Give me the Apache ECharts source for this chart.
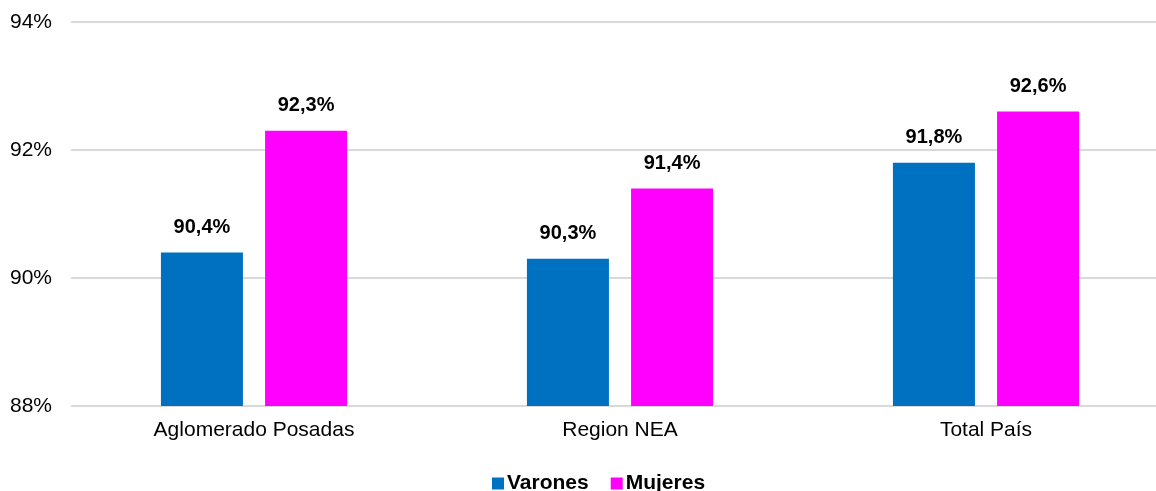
<!DOCTYPE html>
<html>
<head>
<meta charset="utf-8">
<script src="https://cdn.jsdelivr.net/npm/echarts@6/dist/echarts.min.js"></script>
<style>
html, body { margin: 0; padding: 0; background: #fff; }
#chart { width: 1156px; height: 491px; }
</style>
</head>
<body>
<div id="chart"></div>
<script>
var categories = ['Aglomerado Posadas', 'Region NEA', 'Total País']
var varones = [90.4, 90.3, 91.8]
var mujeres = [92.3, 91.4, 92.6]
var yTicks = [88, 90, 92, 94]

var myChart = echarts.init(document.getElementById('chart'));

function pct(v) {
	return v.toFixed(1).replace('.', ',') + '%'
}

var labelStyle = {
	show: true,
	position: 'top',
	distance: 15,
	fontFamily: 'Liberation Sans, Arial, sans-serif',
	fontSize: 20,
	fontWeight: 'bold',
	color: '#000',
	formatter: function (p) { return pct(p.value) }
}

var option = {
	animation: false,
	grid: {
		left: 71,
		width: 1098,
		top: 22,
		bottom: 85,
		outerBoundsMode: 'none'
	},
	legend: {
		top: 468,
		left: 487,
		itemWidth: 12,
		itemHeight: 12,
		itemGap: 22,
		icon: 'rect',
		textStyle: {
			fontFamily: 'Liberation Sans, Arial, sans-serif',
			fontSize: 21,
			fontWeight: 'bold',
			color: '#000',
			padding: [0, 0, 0, -2]
		},
		data: ['Varones', 'Mujeres']
	},
	xAxis: {
		type: 'category',
		data: categories,
		axisTick: { show: false },
		axisLine: { show: false },
		axisLabel: {
			margin: 14,
			fontFamily: 'Liberation Sans, Arial, sans-serif',
			fontSize: 21,
			color: '#000'
		}
	},
	yAxis: {
		type: 'value',
		min: yTicks[0],
		max: yTicks[yTicks.length - 1],
		interval: 2,
		axisLine: { show: false },
		axisTick: { show: false },
		splitLine: { lineStyle: { color: '#d9d9d9', width: 2 } },
		axisLabel: {
			margin: 19,
			fontFamily: 'Liberation Sans, Arial, sans-serif',
			fontSize: 21,
			color: '#000',
			formatter: function (v) { return v + '%' }
		}
	},
	series: [{
		name: 'Varones',
		type: 'bar',
		data: varones,
		barWidth: 82,
		barGap: '27%',
		itemStyle: { color: '#0070C0' },
		label: labelStyle
	}, {
		name: 'Mujeres',
		type: 'bar',
		data: mujeres,
		barWidth: 82,
		itemStyle: { color: '#FF00FF' },
		label: labelStyle
	}]
};

myChart.setOption(option);
</script>
</body>
</html>
